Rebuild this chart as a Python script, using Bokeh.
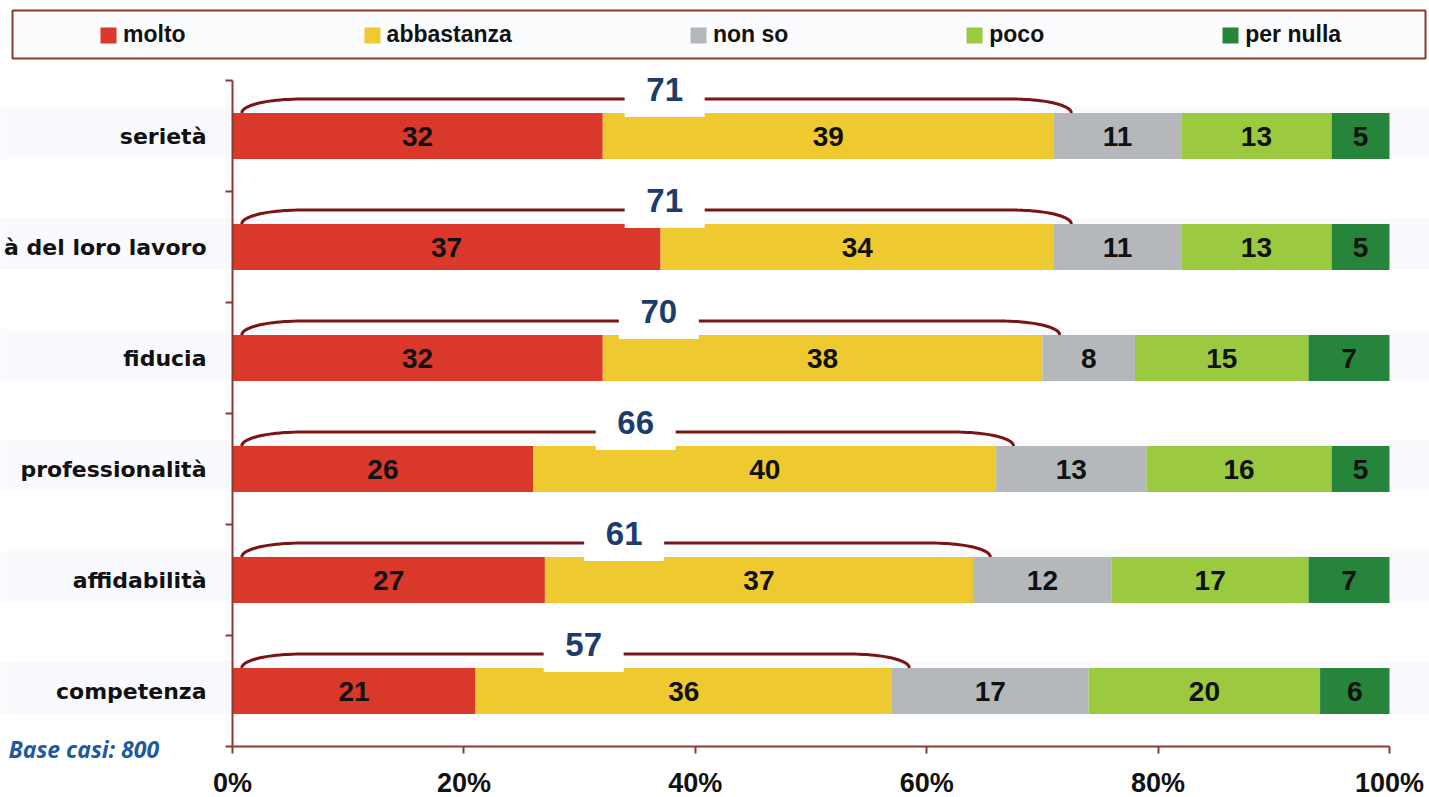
import numpy as np
from bokeh.plotting import figure
from bokeh.models import Range1d, FixedTicker, Legend, LegendItem, Label, BoxAnnotation
from bokeh.embed import file_html
from bokeh.resources import INLINE
from bokeh.core.properties import value

# ---------------- data ----------------
categories = ["serietà", "à del loro lavoro", "fiducia", "professionalità", "affidabilità", "competenza"]
series = ["molto", "abbastanza", "non so", "poco", "per nulla"]
molto = [32, 37, 32, 26, 27, 21]
abbastanza = [39, 34, 38, 40, 37, 36]
non_so = [11, 11, 8, 13, 12, 17]
poco = [13, 13, 15, 16, 17, 20]
per_nulla = [5, 5, 7, 5, 7, 6]
totals = [71, 71, 70, 66, 61, 57]
x_ticks = [0, 20, 40, 60, 80, 100]
x_tick_labels = ["0%", "20%", "40%", "60%", "80%", "100%"]
colors = ["#d9382a", "#eec930", "#b5b8ba", "#9bc93f", "#26843b"]
note = "Base casi: 800"

AXIS = "#8b3a2f"
BRACE = "#7b1515"

n = len(categories)
yc = np.array([n - 0.5 - i for i in range(n)])
vals = np.array([molto, abbastanza, non_so, poco, per_nulla], dtype=float)
right = np.cumsum(vals, axis=0)
left = right - vals
bar_h = 0.415

# The frame fills the whole canvas; axes sit at fixed data locations.
XS = 1157 / 100.0   # px per percent
YS = 111.0          # px per category
p = figure(width=1429, height=797,
           x_range=Range1d(-232 / XS, 100 + 40 / XS),
           y_range=Range1d(-51 / YS, n + 80 / YS),
           toolbar_location=None, output_backend="svg", min_border=0)
p.outline_line_color = None
p.grid.visible = False
p.background_fill_color = "white"

# faint row bands
p.hbar(y=yc + 0.027, left=-232 / XS, right=100 + 40 / XS, height=0.468,
       fill_color="#f9fafd", line_color=None)

bar_renderers = []
for k in range(len(series)):
    r = p.hbar(y=yc, left=left[k], right=right[k], height=bar_h,
               fill_color=colors[k], line_color=None)
    bar_renderers.append(r)

for k in range(len(series)):
    p.text(x=(left[k] + right[k]) / 2, y=yc, text=[str(int(v)) for v in vals[k]],
           text_align="center", text_baseline="middle",
           text_font=value("Liberation Sans"), text_font_style="bold",
           text_font_size="28px", text_color="#111111")

# braces
t = np.linspace(0, np.pi / 2, 24)
cw = 5.0
xs_list, ys_list, mids = [], [], []
for i in range(n):
    x0 = 0.8
    x1 = molto[i] + abbastanza[i] + 1.5
    ybot = yc[i] + bar_h / 2
    ytop = ybot + 0.125
    lx = x0 + cw * (1 - np.cos(t))
    ly = ybot + (ytop - ybot) * np.sin(t)
    rx = (x1 - cw * (1 - np.cos(t)))[::-1]
    ry = ly[::-1]
    xs_list.append(list(np.concatenate([lx, rx])))
    ys_list.append(list(np.concatenate([ly, ry])))
    mids.append((x0 + x1) / 2 + 0.7)
p.multi_line(xs=xs_list, ys=ys_list, line_color=BRACE, line_width=3)

p.rect(x=mids, y=list(yc + 0.42), width=80, height=55, width_units="screen",
       height_units="screen", fill_color="white", line_color=None)
p.text(x=mids, y=list(yc + 0.42), text=[str(v) for v in totals],
       text_align="center", text_baseline="middle",
       text_font=value("Liberation Sans"), text_font_style="bold",
       text_font_size="33px", text_color="#1d3c6c")

# axes
xa = p.xaxis[0]
xa.fixed_location = 0
xa.ticker = FixedTicker(ticks=x_ticks)
xa.major_label_overrides = {t_: l for t_, l in zip(x_ticks, x_tick_labels)}
xa.bounds = (0, 100)
xa.axis_line_color = AXIS
xa.axis_line_width = 2
xa.major_tick_line_color = AXIS
xa.major_tick_line_width = 2
xa.major_tick_out = 7
xa.major_tick_in = 0
xa.minor_tick_line_color = None
xa.major_label_standoff = 14
xa.major_label_text_font = "Liberation Sans"
xa.major_label_text_font_style = "bold"
xa.major_label_text_font_size = "27px"
xa.major_label_text_color = "#111111"

ya = p.yaxis[0]
ya.fixed_location = 0
ya.ticker = FixedTicker(ticks=list(yc), minor_ticks=list(range(n + 1)))
ya.major_label_overrides = {float(y): c for y, c in zip(yc, categories)}
ya.bounds = (0, n)
ya.axis_line_color = AXIS
ya.axis_line_width = 2
ya.major_tick_line_color = None
ya.major_tick_out = 0
ya.major_tick_in = 0
ya.minor_tick_line_color = AXIS
ya.minor_tick_line_width = 2
ya.minor_tick_out = 7
ya.minor_tick_in = 0
ya.major_label_standoff = 19
ya.major_label_text_font = "DejaVu Sans"
ya.major_label_text_font_style = "bold"
ya.major_label_text_font_size = "22px"
ya.major_label_text_color = "#111111"

# legend box
p.add_layout(BoxAnnotation(left=-220 / XS, right=100 + 36 / XS,
                           top=(746 - 10) / YS, bottom=(746 - 58) / YS,
                           fill_color="#fbfcfe", fill_alpha=1,
                           line_color=AXIS, line_width=2, line_alpha=1))

legend = Legend(items=[LegendItem(label=s, renderers=[r]) for s, r in zip(series, bar_renderers)],
                orientation="horizontal", location=(98, 749),
                glyph_width=20, glyph_height=20, label_standoff=5, spacing=176,
                padding=14, margin=0, border_line_color=None, background_fill_alpha=0,
                label_text_font="Liberation Sans", label_text_font_style="bold",
                label_text_font_size="23px", label_text_color="#111111")
p.add_layout(legend, "center")

p.add_layout(Label(x=-224 / XS, y=-2 / YS, text=note,
                   text_align="left", text_baseline="middle",
                   text_font="Open Sans", text_font_style="bold italic",
                   text_font_size="23px", text_color="#1f5a9e"))

open("out.html", "w").write(file_html(p, INLINE))
